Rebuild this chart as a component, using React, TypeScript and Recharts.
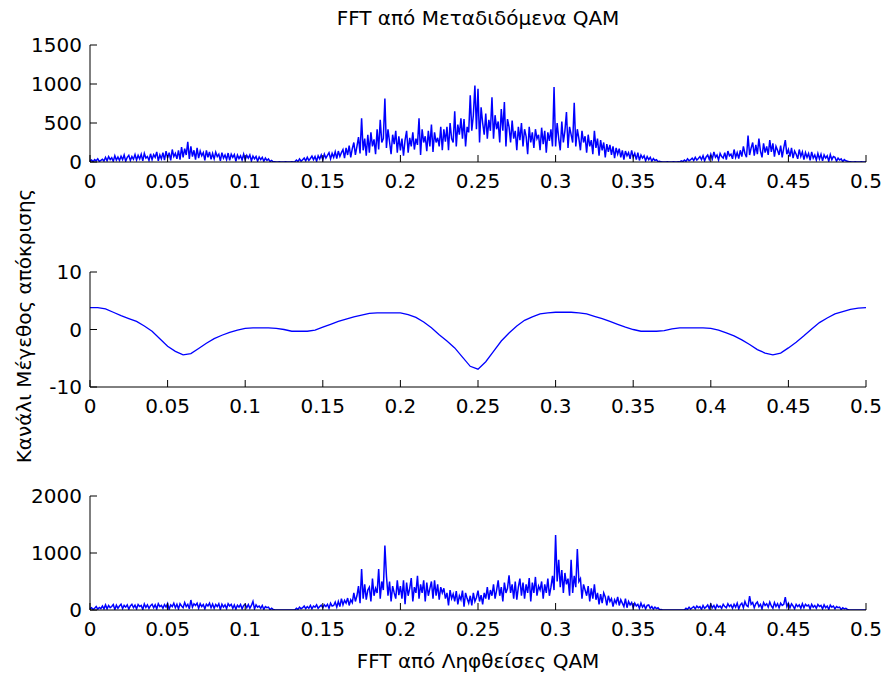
import { LineChart, Line, XAxis, YAxis } from "recharts";

const FONT = "'DejaVu Sans', Arial, sans-serif";
const BLUE = "#0000ff";
const TICK_LEN = 7;

// FFT bin spacing of the two spectra, and of the channel response
const BIN = 0.001;
const CH_BIN = 0.005;

const X_TICKS = [0, 0.05, 0.1, 0.15, 0.2, 0.25, 0.3, 0.35, 0.4, 0.45, 0.5];
const TX_TICKS = [0, 500, 1000, 1500];
const CH_TICKS = [-10, 0, 10];
const RX_TICKS = [0, 1000, 2000];

// |FFT| of transmitted QAM (one row per 0.01)
const TX_MAG = [
  10, 25, 5, 30, 15, 40, 8, 20, 35, 12,
  60, 15, 70, 30, 55, 10, 80, 25, 65, 20,
  75, 30, 90, 10, 60, 85, 20, 70, 35, 95,
  25, 85, 40, 100, 15, 110, 50, 70, 20, 105,
  30, 95, 60, 130, 15, 90, 40, 120, 25, 140,
  50, 120, 20, 160, 70, 110, 40, 150, 30, 190,
  60, 170, 90, 260, 40, 200, 70, 150, 30, 180,
  50, 140, 80, 120, 20, 150, 60, 130, 35, 110,
  40, 125, 70, 100, 15, 120, 50, 90, 30, 115,
  20, 100, 60, 95, 10, 90, 45, 80, 25, 100,
  30, 85, 50, 90, 15, 75, 40, 70, 10, 65,
  30, 60, 10, 50, 20, 40, 5, 20, 3, 2,
  1, 0, 2, 1, 0, 1, 2, 0, 1, 0,
  2, 1, 3, 25, 5, 40, 10, 30, 50, 15,
  60, 20, 45, 75, 30, 70, 10, 80, 40, 90,
  30, 100, 50, 85, 120, 40, 110, 60, 130, 45,
  140, 70, 120, 160, 50, 180, 90, 210, 60, 170,
  250, 90, 200, 320, 110, 560, 150, 300, 80, 350,
  120, 380, 200, 290, 100, 420, 160, 540, 250, 300,
  815, 180, 420, 260, 100, 350, 230, 400, 120, 330,
  150, 300, 80, 280, 400, 120, 310, 200, 380, 160,
  300, 220, 560, 90, 420, 250, 330, 140, 400, 200,
  480, 130, 380, 250, 310, 200, 450, 150, 420, 260,
  450, 150, 500, 300, 250, 650, 200, 480, 350, 560,
  300, 550, 200, 450, 380, 855, 400, 600, 980, 420,
  940, 250, 700, 500, 350, 620, 300, 540, 400, 830,
  300, 600, 420, 520, 250, 680, 400, 770, 200, 550,
  450, 250, 530, 300, 400, 150, 450, 280, 500, 200,
  420, 330, 100, 450, 250, 380, 180, 420, 300, 350,
  150, 440, 230, 400, 120, 380, 270, 420, 200, 960,
  200, 500, 300, 150, 520, 250, 400, 640, 180, 450,
  350, 250, 760, 200, 420, 300, 150, 400, 250, 330,
  120, 350, 200, 280, 100, 400, 180, 300, 80, 280,
  150, 250, 60, 230, 130, 220, 90, 200, 50, 180,
  100, 170, 60, 150, 30, 140, 80, 120, 40, 150,
  60, 110, 30, 120, 20, 90, 50, 80, 15, 70,
  30, 60, 10, 45, 20, 30, 5, 10, 2, 1,
  0, 1, 2, 0, 1, 0, 2, 1, 0, 2,
  1, 15, 3, 25, 8, 40, 15, 30, 50, 20,
  60, 25, 45, 70, 30, 80, 15, 65, 90, 35,
  100, 40, 130, 60, 90, 25, 110, 70, 50, 120,
  30, 140, 80, 100, 40, 160, 60, 120, 45, 150,
  70, 200, 110, 60, 340, 90, 180, 250, 80, 220,
  100, 300, 140, 60, 240, 120, 200, 90, 280, 130,
  240, 70, 200, 150, 90, 210, 60, 180, 280, 100,
  160, 70, 180, 50, 140, 100, 40, 160, 70, 130,
  30, 120, 60, 110, 20, 130, 50, 90, 25, 110,
  40, 100, 15, 90, 50, 80, 10, 95, 30, 70,
  60, 10, 50, 25, 40, 5, 30, 15, 10, 3,
  2, 0, 1, 2, 0, 1, 0, 2, 1, 0,
  0,
];

// channel magnitude response (middle panel)
const CHANNEL = [
  3.8, 3.8, 3.6, 3.0, 2.4, 1.9, 1.4, 0.6, -0.3, -1.6,
  -2.9, -3.8, -4.4, -4.2, -3.3, -2.4, -1.6, -1.0, -0.5, -0.1,
  0.2, 0.3, 0.3, 0.3, 0.2, 0.0, -0.3, -0.3, -0.3, -0.1,
  0.4, 0.9, 1.4, 1.8, 2.2, 2.5, 2.8, 2.9, 2.9, 2.9,
  2.9, 2.6, 2.1, 1.3, 0.3, -0.9, -2.0, -3.2, -4.8, -6.4,
  -6.9, -5.6, -3.8, -2.0, -0.6, 0.6, 1.6, 2.2, 2.7, 2.9,
  3.0, 3.0, 3.0, 2.9, 2.7, 2.3, 1.9, 1.4, 0.9, 0.4,
  0.0, -0.3, -0.3, -0.3, -0.2, 0.1, 0.3, 0.3, 0.3, 0.3,
  0.2, -0.1, -0.6, -1.1, -1.8, -2.6, -3.5, -4.1, -4.4, -4.1,
  -3.2, -2.2, -1.1, 0.1, 1.2, 2.0, 2.7, 3.1, 3.5, 3.7,
  3.8,
];

// |FFT| of received QAM (bottom panel)
const RX_MAG = [
  20, 40, 10, 30, 60, 15, 45, 25, 70, 20,
  90, 20, 80, 40, 60, 95, 10, 85, 30, 70,
  100, 25, 80, 50, 90, 15, 70, 100, 40, 85,
  20, 95, 60, 80, 10, 105, 45, 90, 30, 75,
  100, 40, 90, 20, 110, 60, 80, 30, 95, 50,
  115, 15, 90, 60, 120, 40, 100, 20, 110, 70,
  40, 130, 60, 100, 20, 175, 50, 110, 80, 120,
  30, 110, 60, 95, 20, 100, 70, 120, 40, 105,
  30, 95, 60, 110, 10, 100, 50, 90, 25, 110,
  70, 100, 30, 90, 15, 85, 50, 95, 20, 80,
  100, 40, 95, 30, 80, 150, 20, 90, 50, 70,
  30, 80, 10, 60, 40, 50, 5, 30, 10, 3,
  1, 0, 2, 1, 0, 2, 1, 0, 1, 0,
  1, 2, 0, 30, 10, 50, 20, 40, 70, 25,
  60, 30, 80, 20, 70, 50, 90, 30, 60, 85,
  40, 90, 60, 100, 30, 120, 70, 80, 140, 50,
  150, 60, 200, 90, 170, 120, 210, 80, 180, 130,
  300, 150, 250, 420, 120, 720, 200, 450, 180, 350,
  400, 150, 550, 250, 380, 300, 720, 200, 500, 350,
  1130, 600, 250, 500, 150, 420, 300, 200, 520, 260,
  420, 200, 520, 100, 480, 250, 380, 560, 150, 400,
  300, 600, 200, 450, 300, 520, 150, 480, 250, 380,
  500, 200, 520, 250, 450, 180, 400, 300, 380, 200,
  300, 80, 350, 200, 280, 150, 330, 100, 250, 180,
  340, 60, 300, 200, 120, 250, 80, 300, 150, 220,
  340, 150, 260, 100, 300, 200, 400, 180, 350, 250,
  450, 200, 350, 520, 250, 400, 150, 480, 300, 380,
  610, 300, 450, 200, 500, 180, 400, 550, 250, 480,
  200, 450, 300, 560, 150, 480, 300, 580, 250, 420,
  350, 500, 200, 450, 300, 550, 250, 400, 600, 350,
  1315, 500, 880, 400, 700, 300, 650, 450, 550, 250,
  880, 300, 600, 400, 1070, 500, 550, 200, 450, 350,
  250, 420, 150, 380, 200, 450, 180, 300, 100, 280,
  120, 300, 230, 80, 250, 150, 200, 60, 180, 120,
  230, 80, 180, 120, 60, 200, 40, 150, 90, 130,
  40, 120, 70, 100, 30, 120, 50, 90, 20, 80,
  90, 30, 60, 15, 50, 25, 40, 5, 10, 2,
  0, 1, 2, 0, 1, 0, 2, 1, 0, 1,
  0, 2, 1, 0, 30, 10, 50, 15, 40, 60,
  20, 70, 40, 60, 10, 80, 30, 55, 90, 25,
  100, 40, 80, 20, 90, 50, 70, 30, 100, 60,
  40, 110, 60, 90, 30, 100, 50, 120, 20, 90,
  120, 40, 150, 80, 60, 245, 100, 130, 40, 110,
  140, 60, 100, 20, 130, 80, 110, 50, 140, 70,
  30, 130, 60, 110, 40, 120, 80, 100, 225, 60,
  120, 40, 110, 70, 20, 100, 60, 90, 30, 110,
  40, 100, 70, 90, 20, 100, 50, 80, 30, 95,
  60, 80, 20, 90, 40, 70, 10, 85, 50, 70,
  20, 60, 40, 50, 5, 40, 20, 30, 10, 3,
  2, 0, 1, 0, 2, 1, 0, 1, 0, 2,
  0,
];

const toRows = (vals: number[], step: number) =>
  vals.map((v, i) => ({ f: +(i * step).toFixed(4), v }));

// MATLAB-style inward ticks; x/y arrive at the axis line (tickSize 0, margin 0)
// eslint-disable-next-line @typescript-eslint/no-explicit-any
function BottomTick({ x, y, payload }: any) {
  return (
    <g>
      <line x1={x} y1={y} x2={x} y2={y - TICK_LEN} stroke="#000" />
      <text x={x} y={y + 26} textAnchor="middle" fill="#000" fontSize={20} fontFamily={FONT}>
        {String(payload.value)}
      </text>
    </g>
  );
}

// eslint-disable-next-line @typescript-eslint/no-explicit-any
function TopTick({ x, y }: any) {
  return <line x1={x} y1={y} x2={x} y2={y + TICK_LEN} stroke="#000" />;
}

// eslint-disable-next-line @typescript-eslint/no-explicit-any
function LeftTick({ x, y, payload }: any) {
  return (
    <g>
      <line x1={x} y1={y} x2={x + TICK_LEN} y2={y} stroke="#000" />
      <text x={x - 8} y={y + 7} textAnchor="end" fill="#000" fontSize={20} fontFamily={FONT}>
        {String(payload.value)}
      </text>
    </g>
  );
}

// eslint-disable-next-line @typescript-eslint/no-explicit-any
function RightTick({ x, y }: any) {
  return <line x1={x} y1={y} x2={x - TICK_LEN} y2={y} stroke="#000" />;
}

interface PanelProps {
  data: { f: number; v: number }[];
  top: number;
  marginTop: number;
  marginBottom: number;
  yDomain: [number, number];
  yTicks: number[];
  strokeWidth?: number;
}

function Panel({ data, top, marginTop, marginBottom, yDomain, yTicks, strokeWidth = 1 }: PanelProps) {
  const common = { stroke: "#000", tickSize: 0, tickMargin: 0, tickLine: false, interval: 0 as const };
  return (
    <div style={{ position: "absolute", left: 0, top, width: 885, height: 200 }}>
      <LineChart
        width={885}
        height={200}
        data={data}
        margin={{ top: marginTop, right: 19, bottom: marginBottom, left: 30 }}
      >
        <XAxis {...common} type="number" dataKey="f" domain={[0, 0.5]} ticks={X_TICKS} height={30} tick={<BottomTick />} />
        <XAxis {...common} xAxisId="top" orientation="top" type="number" dataKey="f" domain={[0, 0.5]} ticks={X_TICKS} height={0} tick={<TopTick />} />
        <YAxis {...common} type="number" domain={yDomain} ticks={yTicks} width={60} tick={<LeftTick />} allowDataOverflow />
        <YAxis {...common} yAxisId="right" orientation="right" type="number" domain={yDomain} ticks={yTicks} width={0} tick={<RightTick />} allowDataOverflow />
        {/* invisible twin so the top/right box axes are drawn */}
        <Line
          xAxisId="top"
          yAxisId="right"
          type="linear"
          dataKey="v"
          stroke="none"
          strokeOpacity={0}
          dot={false}
          activeDot={false}
          isAnimationActive={false}
        />
        <Line
          type="linear"
          dataKey="v"
          stroke={BLUE}
          strokeWidth={strokeWidth}
          dot={false}
          activeDot={false}
          isAnimationActive={false}
        />
      </LineChart>
    </div>
  );
}

export default function App() {
  const tx = toRows(TX_MAG, BIN);
  const ch = toRows(CHANNEL, CH_BIN);
  const rx = toRows(RX_MAG, BIN);

  return (
    <div style={{ position: "absolute", left: 0, top: 0, width: 885, height: 677, background: "#fff" }}>
      <Panel data={tx} top={0} marginTop={45} marginBottom={8} yDomain={[0, 1500]} yTicks={TX_TICKS} strokeWidth={1.5} />
      <Panel data={ch} top={230} marginTop={42} marginBottom={13} yDomain={[-10, 10]} yTicks={CH_TICKS} strokeWidth={1.3} />
      <Panel data={rx} top={454} marginTop={42} marginBottom={14} yDomain={[0, 2000]} yTicks={RX_TICKS} strokeWidth={1.5} />
      <svg
        width={885}
        height={677}
        style={{ position: "absolute", left: 0, top: 0, pointerEvents: "none" }}
        fontFamily={FONT}
        fontSize={20}
        fill="#000"
      >
        <text x={478} y={25} textAnchor="middle">FFT από Μεταδιδόμενα QAM</text>
        <text x={31} y={326} textAnchor="middle" transform="rotate(-90 31 326)">
          Κανάλι Μέγεθος απόκρισης
        </text>
        <text x={478} y={668} textAnchor="middle">FFT από Ληφθείσες QAM</text>
      </svg>
    </div>
  );
}
